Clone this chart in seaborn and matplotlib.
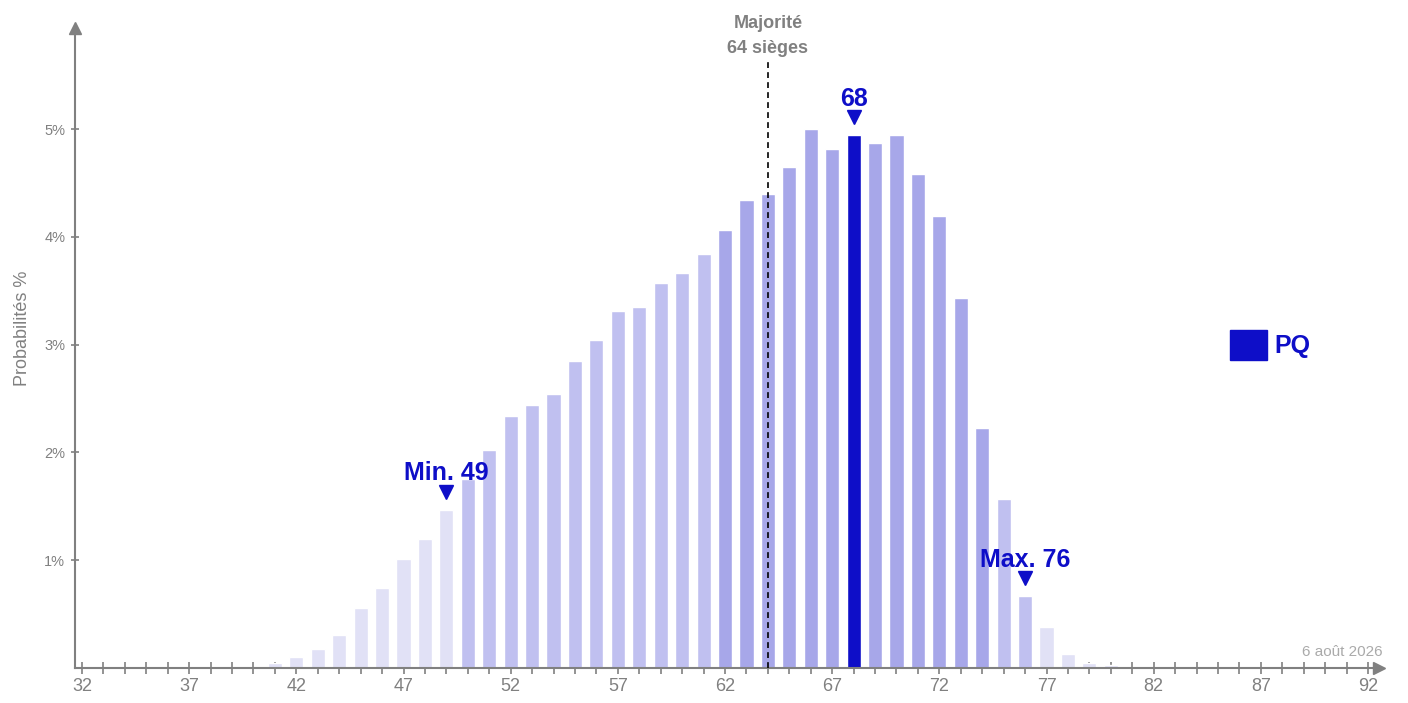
import pandas as pd
import seaborn as sns
import matplotlib.pyplot as plt
import matplotlib.transforms as mtransforms
from matplotlib.patches import Patch
from matplotlib.ticker import FixedLocator, MultipleLocator, FuncFormatter

# Seat counts and probabilities (%) for the PQ
seats = list(range(41, 81))
probs = [0.045, 0.10, 0.18, 0.31, 0.56, 0.74, 1.01, 1.20, 1.47,
         1.75, 2.02, 2.34, 2.44, 2.54, 2.85, 3.04, 3.31, 3.35, 3.57, 3.66,
         3.84, 4.06, 4.34, 4.40, 4.65, 5.00, 4.81, 4.94, 4.87, 4.94,
         4.58, 4.19, 3.43, 2.23, 1.57, 0.67, 0.38, 0.13, 0.045, 0.025]

# Intervals used for shading
outer_range = (50, 76)
inner_range = (62, 74)
min_seat, mode_seat, max_seat = 49, 68, 76
majority = 64

x_ticks = list(range(32, 93, 5))
y_ticks = [1, 2, 3, 4, 5]

party = "PQ"
date_label = "6 août 2026"

blue = "#0E0EC8"
gray = "#808080"
palette = {"light": "#E1E1F6", "mid": "#C0C0F0", "dark": "#A7A7E9", "mode": blue}


def band(s):
    if s == mode_seat:
        return "mode"
    if inner_range[0] <= s <= inner_range[1]:
        return "dark"
    if outer_range[0] <= s <= outer_range[1]:
        return "mid"
    return "light"


df = pd.DataFrame({"seats": seats, "prob": probs})
df["band"] = df["seats"].map(band)

sns.set_style("white")
plt.rcParams["font.family"] = ["Liberation Sans", "DejaVu Sans"]

fig = plt.figure(figsize=(14.08, 7.03), dpi=100)
ax = fig.add_axes([75 / 1408, 35 / 703, 1304 / 1408, 640 / 703])

sns.barplot(data=df, x="seats", y="prob", hue="band", palette=palette,
            native_scale=True, dodge=False, width=0.66, saturation=1,
            errorbar=None, legend=False, ax=ax)

ax.set_xlim(31.673, 92.513)
ax.set_ylim(0, 5.937)

# axes with arrow heads
for side in ["top", "right"]:
    ax.spines[side].set_visible(False)
for side in ["left", "bottom"]:
    ax.spines[side].set_color(gray)
    ax.spines[side].set_linewidth(1.5)
    ax.spines[side].set_zorder(1)
ax.plot(1, 0, ">", color=gray, ms=9, transform=ax.transAxes, clip_on=False)
ax.plot(0, 1, "^", color=gray, ms=9, transform=ax.transAxes, clip_on=False)

ax.xaxis.set_major_locator(FixedLocator(x_ticks))
ax.xaxis.set_minor_locator(MultipleLocator(1))
ax.tick_params(axis="x", which="both", direction="inout", length=8, width=1.2,
               color=gray, labelcolor=gray, labelsize=13, pad=3, bottom=True)
ax.yaxis.set_major_locator(FixedLocator(y_ticks))
ax.yaxis.set_major_formatter(FuncFormatter(lambda v, p: f"{v:.0f}%"))
ax.tick_params(axis="y", direction="inout", length=6, width=1.2,
               color=gray, labelcolor=gray, labelsize=10.5, pad=4, left=True)

ax.set_xlabel("")
ax.set_ylabel("Probabilités %", color=gray, fontsize=13)
ax.yaxis.set_label_coords(-44 / 1304, 0.53)

# majority line
ax.vlines(majority, 0, 5.64, colors="black", linewidth=1.2,
          linestyles=(0, (3.5, 2.5)), zorder=5)
ax.text(majority, (668 - 23) / 107.8, "Majorité", ha="center", va="center",
        color=gray, fontsize=13, fontweight="bold", clip_on=False)
ax.text(majority, (668 - 48) / 107.8, "64 sièges", ha="center", va="center",
        color=gray, fontsize=13, fontweight="bold", clip_on=False)

# min / mode / max markers
tri = mtransforms.offset_copy(ax.transData, fig=fig, y=18, units="dots")
for s, label in [(min_seat, f"Min. {min_seat}"), (mode_seat, str(mode_seat)),
                 (max_seat, f"Max. {max_seat}")]:
    v = probs[seats.index(s)]
    ax.plot(s, v, "v", color=blue, ms=10.5, transform=tri, clip_on=False)
    ax.annotate(label, xy=(s, v), xytext=(0, 21), textcoords="offset points",
                ha="center", va="baseline", color=blue, fontsize=18,
                fontweight="bold")

ax.text((1383 - 75) / 1304, 0.014, date_label, transform=ax.transAxes,
        ha="right", va="bottom", color="#AAAAAA", fontsize=11)

ax.legend(handles=[Patch(color=blue)], labels=[party], loc="center left",
          bbox_to_anchor=((1230 - 75) / 1304, (668 - 345) / 640),
          frameon=False, borderpad=0, borderaxespad=0, handlelength=1.48,
          handleheight=1.48, handletextpad=0.3,
          prop={"size": 18, "weight": "bold"}, labelcolor=blue)

fig.savefig("out.png", dpi=100)
